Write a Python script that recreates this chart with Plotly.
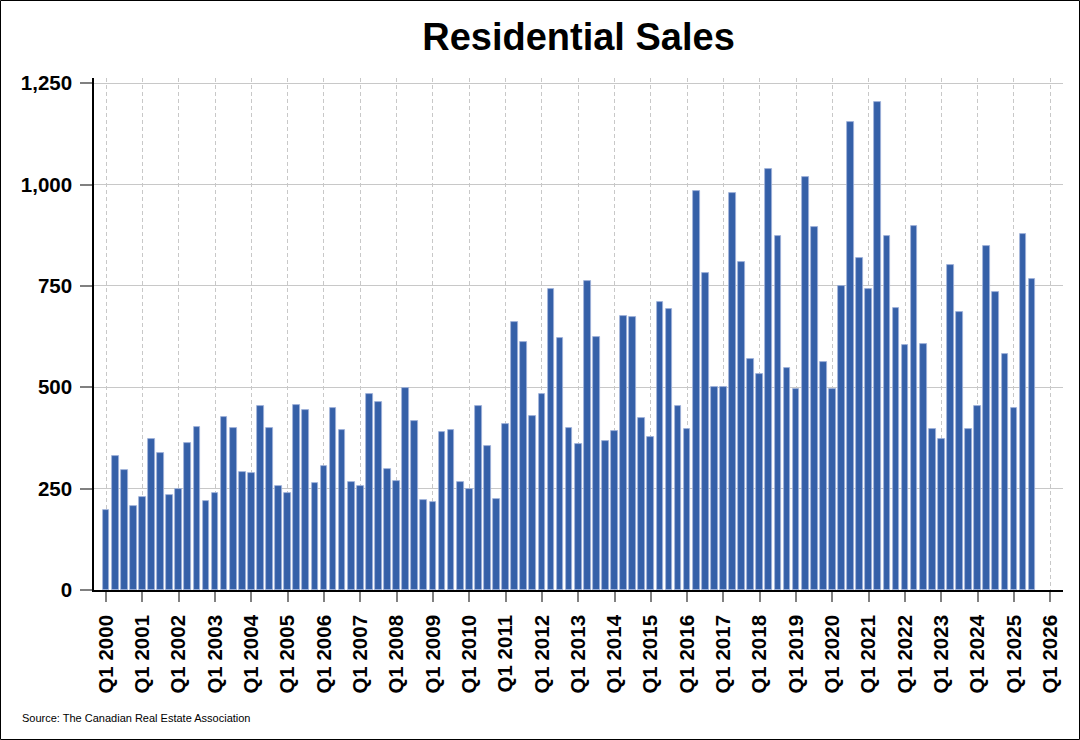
import plotly.graph_objects as go

years = list(range(2000, 2026))
quarters = ["Q1", "Q2", "Q3", "Q4"]

sales_2000_2012 = [
    197, 331, 295, 208,   # 2000
    229, 373, 339, 235,   # 2001
    250, 362, 403, 220,   # 2002
    239, 427, 399, 290,   # 2003
    288, 453, 399, 256,   # 2004
    240, 456, 444, 264,   # 2005
    307, 450, 395, 266,   # 2006
    257, 483, 463, 299,   # 2007
    270, 498, 417, 222,   # 2008
    217, 389, 395, 266,   # 2009
    250, 455, 355, 225,   # 2010
    409, 662, 611, 429,   # 2011
    483, 742, 622, 399,   # 2012
]
sales_2013_2025 = [
    360, 762, 623, 367,   # 2013
    392, 676, 674, 424,   # 2014
    377, 711, 692, 455,   # 2015
    398, 985, 781, 502,   # 2016
    500, 979, 810, 571,   # 2017
    534, 1038, 874, 548,  # 2018
    495, 1019, 895, 563,  # 2019
    495, 751, 1155, 819,  # 2020
    742, 1205, 873, 695,  # 2021
    604, 899, 607, 398,   # 2022
    373, 801, 685, 398,   # 2023
    454, 848, 735, 582,   # 2024
    450, 877, 767,        # 2025
]
sales = sales_2000_2012 + sales_2013_2025

period_labels = [f"{q} {y}" for y in years for q in quarters][:len(sales)]
x_index = list(range(len(sales)))

tick_years = list(range(2000, 2027))
tick_vals = [(y - 2000) * 4 for y in tick_years]
tick_text = [f"Q1 {y}" for y in tick_years]

y_tick_vals = [0, 250, 500, 750, 1000, 1250]
y_tick_text = ["0", "250", "500", "750", "1,000", "1,250"]

font_family = "Liberation Sans, Arial, sans-serif"

fig = go.Figure()
fig.add_trace(go.Bar(
    x=x_index,
    y=sales,
    customdata=period_labels,
    hovertemplate="%{customdata}: %{y}<extra></extra>",
    marker=dict(color="#3560a8", line=dict(color="#9fb3da", width=0.8)),
    width=0.74,
))

W, H = 1080, 740
L, R, T, B = 94, 17, 78, 150
pw, ph = W - L - R, H - T - B

fig.update_layout(
    width=W, height=H,
    margin=dict(l=L, r=R, t=T, b=B, pad=0),
    paper_bgcolor="white",
    plot_bgcolor="white",
    showlegend=False,
    bargap=0,
    title=dict(
        text="Residential Sales",
        x=0.5, xref="paper", xanchor="center",
        y=1 - 37 / H, yref="container", yanchor="middle",
        font=dict(family=font_family, size=38, color="black", weight="bold"),
    ),
    font=dict(family=font_family, color="black"),
    xaxis=dict(
        range=[-1.33, 105.4],
        tickmode="array",
        tickvals=tick_vals,
        ticktext=tick_text,
        tickangle=-90,
        ticks="outside",
        ticklen=10,
        tickcolor="#808080",
        tickwidth=1.5,
        tickfont=dict(family=font_family, size=20.5, color="black", weight="bold"),
        showline=True,
        linecolor="black",
        linewidth=1.5,
        showgrid=True,
        gridcolor="#c8c8c8",
        griddash="4px,3px",
        gridwidth=1,
        zeroline=False,
        ticklabelstandoff=5,
    ),
    yaxis=dict(
        range=[0, 1263],
        tickmode="array",
        tickvals=y_tick_vals,
        ticktext=y_tick_text,
        ticks="outside",
        ticklen=12,
        tickcolor="#808080",
        tickwidth=1.5,
        tickfont=dict(family=font_family, size=20.5, color="black", weight="bold"),
        showline=True,
        linecolor="black",
        linewidth=1.5,
        showgrid=True,
        gridcolor="#c8c8c8",
        gridwidth=1,
        zeroline=False,
        ticklabelstandoff=4,
    ),
)

fig.add_annotation(
    text="Source: The Canadian Real Estate Association",
    xref="paper", yref="paper",
    x=(20 - L) / pw, y=(H - B - 718) / ph,
    xanchor="left", yanchor="middle",
    showarrow=False,
    font=dict(family=font_family, size=11, color="black"),
)

# outer frame around the whole picture
fig.add_shape(
    type="rect", xref="paper", yref="paper",
    x0=(0.5 - L) / pw, x1=(W - 0.5 - L) / pw,
    y0=(H - B - (H - 0.5)) / ph, y1=(H - B - 0.5) / ph,
    line=dict(color="black", width=1),
    fillcolor="rgba(0,0,0,0)",
    layer="above",
)

fig.write_html(
    "out.html",
    config={"displayModeBar": False},
    post_script="document.body.style.margin='0';document.body.style.overflow='hidden';",
)
